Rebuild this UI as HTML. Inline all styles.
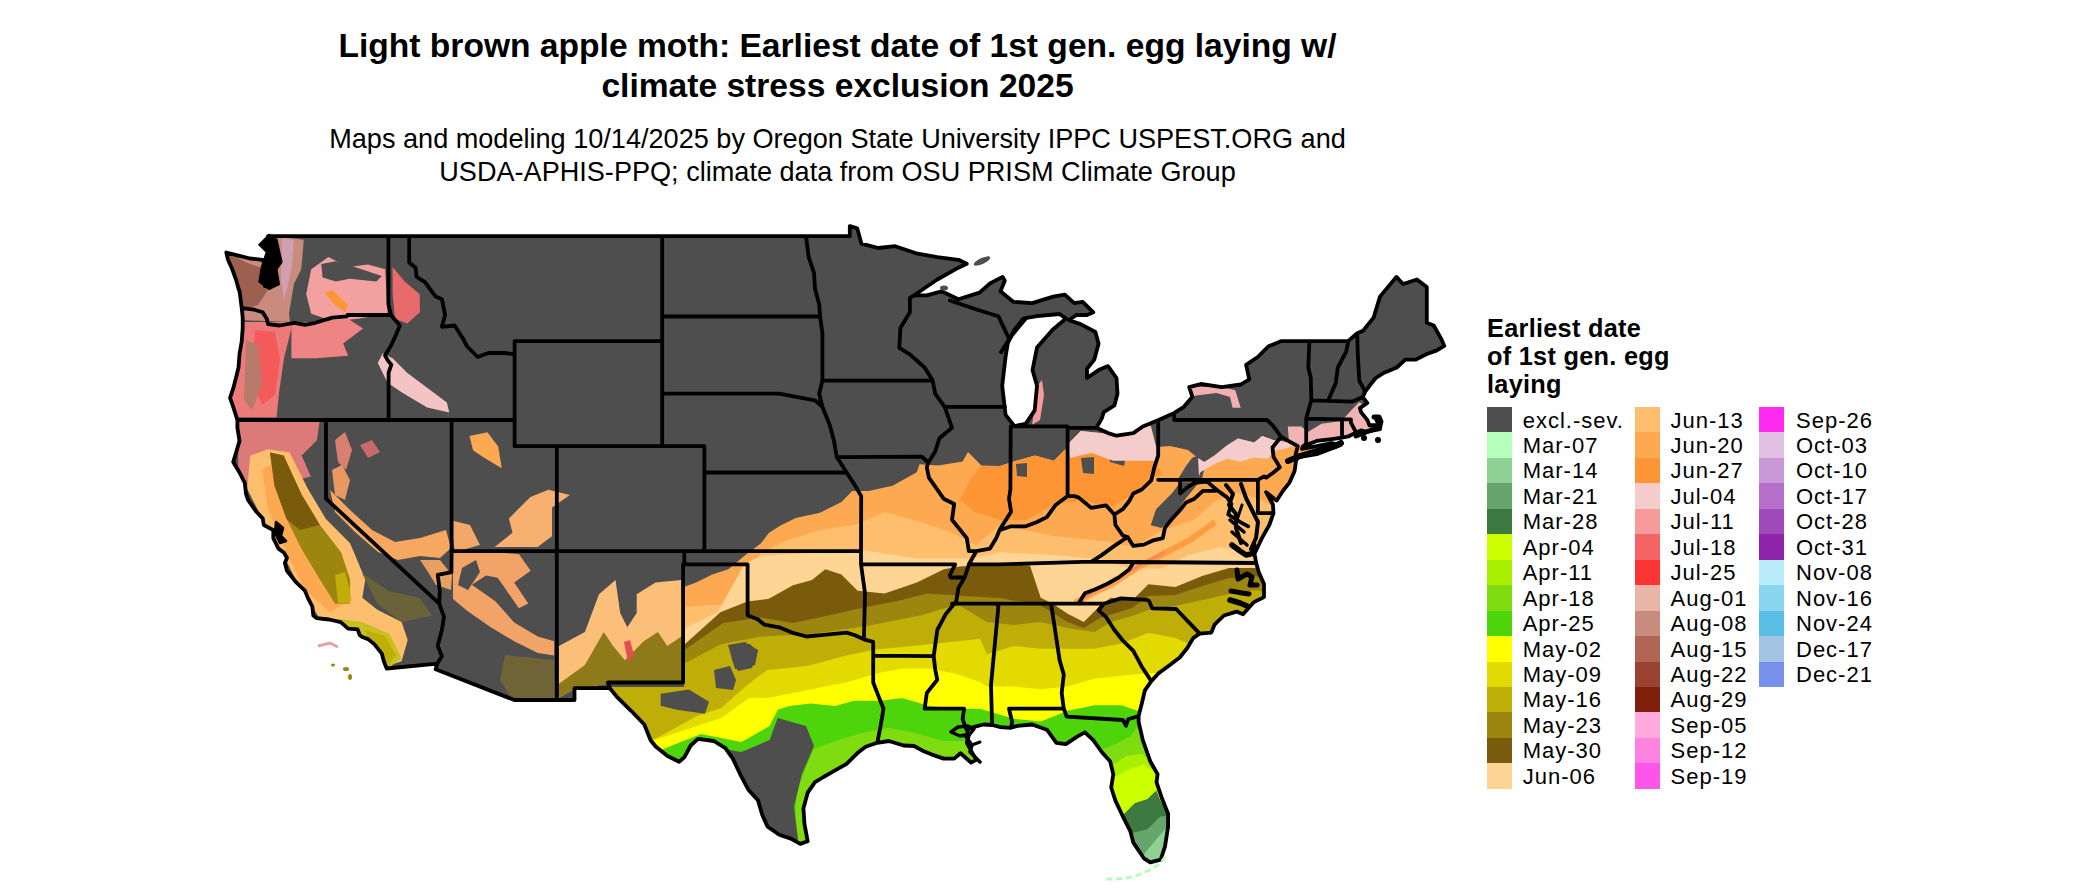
<!DOCTYPE html>
<html><head><meta charset="utf-8"><style>
html,body{margin:0;padding:0;background:#fff;}
body{width:2100px;height:892px;position:relative;overflow:hidden;font-family:"Liberation Sans",sans-serif;color:#000;}
.t{position:absolute;left:0;width:1675px;text-align:center;white-space:nowrap;}
.tt{font-weight:bold;font-size:33.6px;line-height:40px;}
.st{font-size:27.1px;line-height:33px;}
.lt{position:absolute;left:1487px;top:314.2px;font-weight:bold;font-size:25.3px;line-height:28px;letter-spacing:0.28px;white-space:nowrap;}
.sq{position:absolute;width:25px;height:25.5px;}
.lb{position:absolute;font-size:22px;line-height:25.45px;height:25.45px;white-space:nowrap;letter-spacing:1.0px;}
svg.map{position:absolute;left:0;top:0;}
</style></head><body>
<div class="t tt" style="top:25.7px">Light brown apple moth: Earliest date of 1st gen. egg laying w/</div>
<div class="t tt" style="top:65.7px">climate stress exclusion 2025</div>
<div class="t st" style="top:122px">Maps and modeling 10/14/2025 by Oregon State University IPPC USPEST.ORG and</div>
<div class="t st" style="top:155px">USDA-APHIS-PPQ; climate data from OSU PRISM Climate Group</div>
<svg class="map" width="2100" height="892" viewBox="0 0 2100 892">
<defs><clipPath id="us"><path d="M226.3,252.5 L228.0,259.8 L232.2,269.0 L236.4,280.8 L238.5,288.7 L239.5,291.3 L240.6,299.2 L241.7,308.1 L242.7,317.6 L242.7,328.1 L241.7,341.2 L239.5,354.3 L238.5,367.5 L235.3,380.6 L233.2,388.4 L230.1,397.9 L233.2,406.8 L237.4,420.0 L237.4,427.8 L239.5,440.9 L236.4,451.5 L233.2,462.0 L239.5,472.5 L244.8,482.9 L245.9,493.4 L248.0,500.0 L256.4,511.8 L262.7,518.4 L263.8,525.0 L273.3,530.2 L273.3,538.1 L278.5,548.6 L283.8,552.5 L287.0,557.8 L284.9,563.0 L287.0,570.9 L296.5,582.7 L304.9,590.6 L308.1,598.4 L312.3,606.3 L313.3,615.5 L316.5,618.1 L329.1,619.5 L340.7,622.1 L348.1,628.6 L357.6,629.4 L359.7,635.2 L362.9,637.3 L368.1,639.1 L374.5,644.4 L381.8,653.6 L383.9,661.5 L386.7,668.5 L437.3,663.6 L435.6,669.3 L514.2,700.0 L574.5,700.0 L574.5,688.2 L609.9,688.2 L616.9,696.9 L631.6,711.3 L644.3,724.5 L650.6,740.2 L655.9,746.8 L667.5,756.0 L679.1,761.7 L684.3,757.3 L690.7,745.5 L698.0,738.9 L713.8,741.0 L725.4,748.1 L732.8,758.6 L740.2,774.3 L748.6,790.1 L758.1,800.6 L762.3,815.0 L767.6,826.8 L779.2,834.7 L790.8,838.6 L800.3,843.9 L807.7,841.3 L804.5,824.2 L803.4,808.5 L807.7,792.7 L815.0,782.2 L823.5,777.0 L832.9,771.7 L846.6,763.8 L857.2,753.3 L865.6,746.8 L877.2,742.8 L888.8,741.0 L903.6,745.5 L914.1,746.0 L922.5,750.7 L932.0,754.6 L943.6,758.6 L954.2,758.6 L960.5,753.3 L971.0,762.5 L976.3,759.9 L971.0,750.7 L966.8,742.8 L968.9,735.0 L966.8,730.2 L973.1,727.1 L983.7,724.5 L992.1,725.0 L1000.5,727.1 L1010.0,727.9 L1017.4,725.8 L1032.2,724.5 L1046.9,729.7 L1056.4,742.8 L1065.9,744.1 L1077.5,736.3 L1084.9,732.3 L1093.3,740.2 L1101.7,752.0 L1110.1,761.2 L1113.3,774.3 L1111.2,787.5 L1115.4,800.6 L1122.8,816.3 L1130.2,830.8 L1133.3,842.6 L1143.9,858.3 L1150.2,862.3 L1160.7,859.6 L1165.0,846.5 L1168.1,826.8 L1168.1,813.7 L1161.8,798.0 L1156.5,782.2 L1157.6,774.3 L1150.2,761.2 L1142.8,740.2 L1138.6,721.8 L1138.6,716.1 L1141.8,703.5 L1144.9,690.3 L1151.3,681.1 L1158.6,673.3 L1169.2,665.4 L1179.7,657.5 L1187.1,648.3 L1193.4,637.8 L1199.7,633.6 L1211.3,632.6 L1214.5,624.7 L1224.0,615.5 L1236.6,611.6 L1243.0,614.2 L1253.5,602.4 L1264.0,597.1 L1264.0,584.0 L1258.8,572.2 L1256.2,563.0 L1254.5,553.8 L1261.9,538.1 L1269.3,525.0 L1273.5,513.1 L1272.9,504.5 L1266.1,492.1 L1275.6,500.0 L1276.7,500.5 L1283.0,490.8 L1289.3,482.9 L1294.6,471.1 L1296.1,460.6 L1297.8,457.5 L1316.7,454.1 L1340.8,444.9 L1331.5,443.1 L1316.7,446.2 L1302.0,448.8 L1303.0,446.2 L1316.7,440.9 L1331.5,439.1 L1340.8,437.8 L1348.4,436.5 L1354.7,433.1 L1361.0,430.4 L1366.3,431.8 L1380.0,429.1 L1381.0,422.6 L1375.8,418.6 L1378.9,425.2 L1369.4,425.2 L1367.3,420.0 L1361.0,412.1 L1359.9,408.1 L1367.3,402.9 L1362.7,397.1 L1365.2,391.6 L1370.5,384.5 L1375.8,378.0 L1384.2,372.7 L1396.8,367.5 L1405.3,359.6 L1415.8,359.6 L1426.3,354.3 L1436.9,350.4 L1444.3,345.9 L1441.1,338.6 L1433.7,325.5 L1426.8,322.8 L1426.8,286.9 L1416.9,279.5 L1403.2,284.0 L1400.0,280.8 L1396.4,276.9 L1380.0,296.6 L1373.6,317.6 L1363.1,330.7 L1357.2,333.3 L1348.4,340.9 L1280.9,341.2 L1268.2,346.5 L1257.7,357.0 L1246.1,364.8 L1249.3,379.3 L1240.8,384.5 L1221.9,387.1 L1200.8,384.0 L1189.2,387.1 L1192.4,396.8 L1183.9,406.8 L1174.2,412.9 L1158.6,420.0 L1142.8,426.5 L1133.3,433.1 L1116.5,435.7 L1108.0,433.1 L1096.4,427.8 L1101.7,418.6 L1103.8,412.1 L1114.4,405.5 L1117.5,393.7 L1116.5,378.0 L1108.0,366.1 L1098.6,370.1 L1087.0,378.0 L1087.0,368.8 L1094.3,359.6 L1098.6,343.8 L1095.4,332.0 L1080.6,324.1 L1069.0,320.2 L1076.4,315.0 L1087.0,315.0 L1093.3,312.3 L1082.7,301.8 L1074.3,303.1 L1064.8,294.7 L1053.2,296.6 L1032.2,303.1 L1013.2,301.8 L1000.5,291.3 L1004.8,280.8 L1002.6,276.9 L990.0,283.4 L979.5,292.6 L958.4,299.2 L941.5,291.3 L926.8,295.3 L914.1,295.3 L937.3,279.5 L958.4,267.7 L966.8,263.8 L958.4,259.8 L937.3,257.2 L916.2,253.3 L895.1,246.2 L878.3,248.0 L861.4,243.6 L857.2,228.3 L849.8,226.2 L849.8,236.2 L268.0,236.2 L271.2,252.0 L275.4,267.7 L273.3,280.8 L264.8,286.1 L266.9,270.3 L262.7,259.8 L250.1,258.5 L239.5,255.9 Z"/></clipPath></defs>
<path d="M226.3,252.5 L228.0,259.8 L232.2,269.0 L236.4,280.8 L238.5,288.7 L239.5,291.3 L240.6,299.2 L241.7,308.1 L242.7,317.6 L242.7,328.1 L241.7,341.2 L239.5,354.3 L238.5,367.5 L235.3,380.6 L233.2,388.4 L230.1,397.9 L233.2,406.8 L237.4,420.0 L237.4,427.8 L239.5,440.9 L236.4,451.5 L233.2,462.0 L239.5,472.5 L244.8,482.9 L245.9,493.4 L248.0,500.0 L256.4,511.8 L262.7,518.4 L263.8,525.0 L273.3,530.2 L273.3,538.1 L278.5,548.6 L283.8,552.5 L287.0,557.8 L284.9,563.0 L287.0,570.9 L296.5,582.7 L304.9,590.6 L308.1,598.4 L312.3,606.3 L313.3,615.5 L316.5,618.1 L329.1,619.5 L340.7,622.1 L348.1,628.6 L357.6,629.4 L359.7,635.2 L362.9,637.3 L368.1,639.1 L374.5,644.4 L381.8,653.6 L383.9,661.5 L386.7,668.5 L437.3,663.6 L435.6,669.3 L514.2,700.0 L574.5,700.0 L574.5,688.2 L609.9,688.2 L616.9,696.9 L631.6,711.3 L644.3,724.5 L650.6,740.2 L655.9,746.8 L667.5,756.0 L679.1,761.7 L684.3,757.3 L690.7,745.5 L698.0,738.9 L713.8,741.0 L725.4,748.1 L732.8,758.6 L740.2,774.3 L748.6,790.1 L758.1,800.6 L762.3,815.0 L767.6,826.8 L779.2,834.7 L790.8,838.6 L800.3,843.9 L807.7,841.3 L804.5,824.2 L803.4,808.5 L807.7,792.7 L815.0,782.2 L823.5,777.0 L832.9,771.7 L846.6,763.8 L857.2,753.3 L865.6,746.8 L877.2,742.8 L888.8,741.0 L903.6,745.5 L914.1,746.0 L922.5,750.7 L932.0,754.6 L943.6,758.6 L954.2,758.6 L960.5,753.3 L971.0,762.5 L976.3,759.9 L971.0,750.7 L966.8,742.8 L968.9,735.0 L966.8,730.2 L973.1,727.1 L983.7,724.5 L992.1,725.0 L1000.5,727.1 L1010.0,727.9 L1017.4,725.8 L1032.2,724.5 L1046.9,729.7 L1056.4,742.8 L1065.9,744.1 L1077.5,736.3 L1084.9,732.3 L1093.3,740.2 L1101.7,752.0 L1110.1,761.2 L1113.3,774.3 L1111.2,787.5 L1115.4,800.6 L1122.8,816.3 L1130.2,830.8 L1133.3,842.6 L1143.9,858.3 L1150.2,862.3 L1160.7,859.6 L1165.0,846.5 L1168.1,826.8 L1168.1,813.7 L1161.8,798.0 L1156.5,782.2 L1157.6,774.3 L1150.2,761.2 L1142.8,740.2 L1138.6,721.8 L1138.6,716.1 L1141.8,703.5 L1144.9,690.3 L1151.3,681.1 L1158.6,673.3 L1169.2,665.4 L1179.7,657.5 L1187.1,648.3 L1193.4,637.8 L1199.7,633.6 L1211.3,632.6 L1214.5,624.7 L1224.0,615.5 L1236.6,611.6 L1243.0,614.2 L1253.5,602.4 L1264.0,597.1 L1264.0,584.0 L1258.8,572.2 L1256.2,563.0 L1254.5,553.8 L1261.9,538.1 L1269.3,525.0 L1273.5,513.1 L1272.9,504.5 L1266.1,492.1 L1275.6,500.0 L1276.7,500.5 L1283.0,490.8 L1289.3,482.9 L1294.6,471.1 L1296.1,460.6 L1297.8,457.5 L1316.7,454.1 L1340.8,444.9 L1331.5,443.1 L1316.7,446.2 L1302.0,448.8 L1303.0,446.2 L1316.7,440.9 L1331.5,439.1 L1340.8,437.8 L1348.4,436.5 L1354.7,433.1 L1361.0,430.4 L1366.3,431.8 L1380.0,429.1 L1381.0,422.6 L1375.8,418.6 L1378.9,425.2 L1369.4,425.2 L1367.3,420.0 L1361.0,412.1 L1359.9,408.1 L1367.3,402.9 L1362.7,397.1 L1365.2,391.6 L1370.5,384.5 L1375.8,378.0 L1384.2,372.7 L1396.8,367.5 L1405.3,359.6 L1415.8,359.6 L1426.3,354.3 L1436.9,350.4 L1444.3,345.9 L1441.1,338.6 L1433.7,325.5 L1426.8,322.8 L1426.8,286.9 L1416.9,279.5 L1403.2,284.0 L1400.0,280.8 L1396.4,276.9 L1380.0,296.6 L1373.6,317.6 L1363.1,330.7 L1357.2,333.3 L1348.4,340.9 L1280.9,341.2 L1268.2,346.5 L1257.7,357.0 L1246.1,364.8 L1249.3,379.3 L1240.8,384.5 L1221.9,387.1 L1200.8,384.0 L1189.2,387.1 L1192.4,396.8 L1183.9,406.8 L1174.2,412.9 L1158.6,420.0 L1142.8,426.5 L1133.3,433.1 L1116.5,435.7 L1108.0,433.1 L1096.4,427.8 L1101.7,418.6 L1103.8,412.1 L1114.4,405.5 L1117.5,393.7 L1116.5,378.0 L1108.0,366.1 L1098.6,370.1 L1087.0,378.0 L1087.0,368.8 L1094.3,359.6 L1098.6,343.8 L1095.4,332.0 L1080.6,324.1 L1069.0,320.2 L1076.4,315.0 L1087.0,315.0 L1093.3,312.3 L1082.7,301.8 L1074.3,303.1 L1064.8,294.7 L1053.2,296.6 L1032.2,303.1 L1013.2,301.8 L1000.5,291.3 L1004.8,280.8 L1002.6,276.9 L990.0,283.4 L979.5,292.6 L958.4,299.2 L941.5,291.3 L926.8,295.3 L914.1,295.3 L937.3,279.5 L958.4,267.7 L966.8,263.8 L958.4,259.8 L937.3,257.2 L916.2,253.3 L895.1,246.2 L878.3,248.0 L861.4,243.6 L857.2,228.3 L849.8,226.2 L849.8,236.2 L268.0,236.2 L271.2,252.0 L275.4,267.7 L273.3,280.8 L264.8,286.1 L266.9,270.3 L262.7,259.8 L250.1,258.5 L239.5,255.9 Z" fill="#4e4e4e"/>
<g clip-path="url(#us)"><path d="M684.5,586.7 L696.1,582.6 L712.3,574.6 L728.4,569.2 L744.6,555.7 L760.7,543.6 L768.8,532.9 L779.6,526.1 L795.7,518.0 L820.0,512.7 L841.5,501.9 L852.2,491.1 L868.4,491.1 L892.6,485.8 L916.8,472.3 L919.5,464.2 L938.4,465.6 L962.6,461.5 L968.0,452.0 L981.4,465.6 L1000.0,466.1 L1016.1,460.7 L1035.0,455.4 L1053.8,460.7 L1067.3,447.3 L1070.0,441.9 L1080.7,431.1 L1107.7,433.8 L1134.6,428.4 L1150.7,425.8 L1156.1,447.0 L1170.0,446.0 L1188.0,450.0 L1198.0,458.0 L1204.4,462.0 L1213.8,456.1 L1227.3,445.3 L1238.0,438.6 L1254.2,442.6 L1262.2,435.9 L1273.0,440.0 L1289.2,442.6 L1294.5,437.3 L1302.6,429.2 L1320.0,440.0 L1400.0,470.0 L1400.0,900.0 L600.0,900.0 L600.0,687.0 L684.5,687.0 L684.5,586.7 Z" fill="#fca952"/>
<path d="M981.0,466.0 L1000.0,466.1 L1016.1,460.7 L1035.0,455.4 L1053.8,460.7 L1067.3,447.3 L1070.0,458.0 L1091.5,452.7 L1113.0,460.7 L1134.6,460.7 L1156.1,460.7 L1161.5,475.0 L1153.4,476.9 L1134.6,493.0 L1113.0,506.5 L1080.7,501.1 L1053.8,503.8 L1026.9,520.0 L1000.0,520.0 L975.0,512.0 L960.0,500.0 L970.0,480.0 Z" fill="#fd9534"/>
<path d="M684.5,606.9 L723.0,604.2 L744.6,582.6 L760.7,553.0 L787.7,540.0 L820.0,530.0 L857.6,524.0 L884.5,512.0 L916.8,520.7 L949.1,531.5 L976.0,545.0 L1000.0,525.3 L1053.8,536.1 L1107.7,541.5 L1134.6,546.9 L1161.5,530.7 L1193.8,520.0 L1215.3,501.1 L1236.8,493.0 L1258.4,498.4 L1300.0,520.0 L1400.0,540.0 L1400.0,900.0 L600.0,900.0 L600.0,687.0 L684.5,687.0 L684.5,606.9 Z" fill="#fdbf6e"/>
<path d="M684.5,628.4 L717.7,612.2 L744.6,563.8 L760.7,555.7 L814.6,553.0 L863.0,550.3 L916.8,558.4 L970.7,558.4 L1000.0,552.2 L1053.8,555.0 L1107.7,560.3 L1129.2,568.4 L1161.5,568.4 L1188.4,555.0 L1220.7,546.9 L1242.2,552.2 L1300.0,560.0 L1400.0,600.0 L1400.0,900.0 L600.0,900.0 L600.0,687.0 L684.5,687.0 L684.5,628.4 Z" fill="#ffd595"/>
<path d="M684.5,644.5 L720.4,612.2 L747.3,601.5 L768.8,598.8 L793.0,585.3 L811.9,580.0 L825.3,569.2 L841.5,574.6 L857.6,590.7 L884.5,593.4 L916.8,582.6 L943.8,569.2 L959.9,566.5 L1000.0,563.8 L1030.0,565.4 L1040.7,597.7 L1051.5,603.0 L1067.7,613.8 L1083.8,621.9 L1100.0,605.8 L1110.7,597.7 L1132.2,600.4 L1148.4,584.2 L1175.3,586.9 L1202.2,576.1 L1229.1,568.1 L1256.0,568.1 L1300.0,580.0 L1400.0,900.0 L600.0,900.0 L600.0,687.0 L684.5,687.0 L684.5,644.5 Z" fill="#7a5b0c"/>
<path d="M684.5,650.0 L723.0,623.0 L760.7,617.6 L793.0,623.0 L830.7,615.0 L865.7,606.9 L895.3,601.5 L927.6,593.4 L965.3,596.1 L1000.0,598.0 L1040.0,605.0 L1067.7,622.0 L1083.8,628.0 L1100.0,618.0 L1132.2,608.0 L1148.4,596.0 L1175.3,595.0 L1202.2,586.0 L1229.1,578.0 L1256.0,576.0 L1300.0,590.0 L1400.0,900.0 L600.0,900.0 L600.0,687.0 L684.5,687.0 L684.5,650.0 Z" fill="#9c8610"/>
<path d="M684.5,663.4 L720.4,644.5 L760.7,636.5 L814.6,633.8 L868.4,625.7 L922.2,615.0 L949.1,606.9 L960.0,605.8 L986.9,622.0 L1013.8,625.0 L1040.7,622.0 L1067.7,628.0 L1094.6,632.0 L1110.7,622.0 L1132.2,616.0 L1148.4,610.0 L1175.3,606.0 L1202.2,600.0 L1229.1,594.0 L1256.0,590.0 L1300.0,600.0 L1400.0,900.0 L600.0,900.0 L600.0,687.0 L684.5,687.0 L684.5,663.4 Z" fill="#c0ae08"/>
<path d="M640.0,745.0 L660.7,736.0 L697.0,716.0 L721.2,708.0 L741.4,690.0 L760.0,675.0 L767.7,670.0 L808.0,665.8 L848.4,655.0 L875.3,649.6 L902.2,646.9 L956.0,641.5 L980.0,638.8 L986.9,654.2 L1013.8,646.1 L1040.7,648.8 L1094.6,648.8 L1121.5,643.4 L1148.4,632.7 L1175.3,638.0 L1188.8,643.4 L1220.0,630.0 L1300.0,640.0 L1400.0,900.0 L600.0,900.0 L600.0,745.0 Z" fill="#e2da00"/>
<path d="M640.0,745.0 L660.7,738.0 L697.0,726.0 L721.2,717.9 L749.5,697.7 L767.7,698.0 L794.6,692.7 L821.5,687.3 L848.4,681.9 L875.3,673.8 L902.2,668.4 L929.1,668.4 L956.0,673.8 L980.0,681.9 L986.9,686.5 L1013.8,686.5 L1040.7,689.2 L1067.7,686.5 L1094.6,678.4 L1121.5,675.7 L1148.4,673.0 L1161.8,673.0 L1200.0,660.0 L1400.0,900.0 L600.0,900.0 L600.0,745.0 Z" fill="#ffff00"/>
<path d="M640.0,760.0 L660.7,750.0 L701.0,734.0 L741.4,742.0 L769.6,726.0 L777.7,709.8 L789.2,706.1 L810.7,703.4 L835.0,706.1 L853.8,700.7 L880.7,700.7 L902.2,698.0 L929.1,706.1 L956.0,708.8 L980.0,708.8 L986.9,710.7 L1013.8,718.8 L1040.7,721.5 L1067.7,710.7 L1094.6,705.3 L1121.5,705.3 L1137.6,710.7 L1170.0,712.0 L1400.0,900.0 L600.0,900.0 L600.0,760.0 Z" fill="#4ed40a"/>
<path d="M790.0,900.0 L797.0,790.0 L813.4,749.2 L835.0,741.1 L861.8,733.0 L888.8,727.7 L915.7,733.0 L942.6,741.1 L980.0,741.1 L1000.0,750.0 L1000.0,900.0 L790.0,900.0 Z" fill="#7edc10"/>
<path d="M1090.0,760.0 L1102.4,749.5 L1117.5,743.0 L1130.4,736.6 L1136.9,728.0 L1150.0,730.0 L1170.0,740.0 L1170.0,900.0 L1090.0,900.0 Z" fill="#7edc10"/>
<path d="M1100.0,780.0 L1113.2,764.6 L1126.1,756.0 L1141.2,753.8 L1147.6,758.1 L1170.0,760.0 L1170.0,900.0 L1100.0,900.0 Z" fill="#aaee00"/>
<path d="M1100.0,790.0 L1113.2,777.5 L1130.4,768.9 L1143.3,764.6 L1149.8,768.9 L1170.0,770.0 L1170.0,900.0 L1100.0,900.0 Z" fill="#ccff00"/>
<path d="M1110.0,820.0 L1124.0,814.1 L1134.7,803.3 L1147.6,799.0 L1156.3,790.4 L1160.6,801.2 L1167.0,814.1 L1180.0,820.0 L1180.0,900.0 L1110.0,900.0 Z" fill="#3d7a42"/>
<path d="M1120.0,840.0 L1130.4,833.5 L1147.6,829.2 L1160.6,816.3 L1167.0,816.3 L1180.0,820.0 L1180.0,900.0 L1120.0,900.0 Z" fill="#66a56b"/>
<path d="M1130.0,860.0 L1143.3,855.0 L1154.1,842.1 L1164.9,829.2 L1169.2,829.2 L1180.0,830.0 L1180.0,900.0 L1130.0,900.0 Z" fill="#8fd095"/>
<path d="M690.0,760.0 L701.0,745.0 L741.4,752.0 L769.6,740.0 L777.7,717.9 L806.0,726.0 L814.0,746.0 L802.0,774.0 L794.0,806.6 L798.0,839.0 L790.0,900.0 L690.0,900.0 Z" fill="#4e4e4e"/>
<path d="M660.7,693.7 L689.0,689.6 L709.0,701.7 L705.0,713.8 L676.8,709.8 L660.7,705.8 Z" fill="#4e4e4e"/>
<path d="M714.0,670.0 L730.0,666.0 L736.0,680.0 L733.0,690.0 L716.0,688.0 Z" fill="#4e4e4e"/>
<path d="M731.0,648.0 L750.0,644.0 L757.0,652.0 L752.0,668.0 L738.0,671.0 L732.0,660.0 Z" fill="#4e4e4e"/>
<path d="M728.0,645.0 L745.0,642.0 L758.0,650.0 L755.0,665.0 L735.0,669.0 Z" fill="#4e4e4e"/>
<path d="M1150.7,525.3 L1156.1,509.2 L1172.2,493.0 L1180.3,482.3 L1199.2,482.3 L1185.7,498.4 L1175.0,514.6 L1161.5,528.0 Z" fill="#4e4e4e"/>
<path d="M1178.0,479.0 L1186.0,466.0 L1192.0,458.0 L1201.0,454.0 L1205.0,466.0 L1202.0,479.0 Z" fill="#4e4e4e"/>
<path d="M1107.7,446.0 L1120.0,444.6 L1126.5,452.0 L1124.0,466.1 L1110.0,462.0 Z" fill="#4e4e4e"/>
<path d="M1081.0,458.0 L1094.0,457.0 L1094.0,474.0 L1083.0,473.0 Z" fill="#4e4e4e"/>
<path d="M1016.0,464.0 L1027.0,463.0 L1027.0,477.0 L1017.0,476.0 Z" fill="#4e4e4e"/>
<path d="M1075,603 L1095,592 L1112,584 L1140,566 L1165,553 L1190,540 L1215,522" fill="none" stroke="#fd9534" stroke-width="6" opacity="0.8"/>
<path d="M1085,597 L1112,582 L1140,565 L1165,552" fill="none" stroke="#f07a70" stroke-width="2.5" opacity="0.7"/>
<path d="M1067.3,447.3 L1070.0,441.9 L1080.7,431.1 L1107.7,433.8 L1134.6,428.4 L1150.7,425.8 L1156.1,447.0 L1156.1,460.7 L1134.6,460.7 L1113.0,460.7 L1091.5,452.7 L1070.0,458.0 Z" fill="#f4cccc"/>
<path d="M1199.0,476.3 L1198.0,458.0 L1204.4,462.0 L1213.8,456.1 L1227.3,445.3 L1238.0,438.6 L1254.2,442.6 L1262.2,435.9 L1273.0,440.0 L1289.2,442.6 L1294.5,445.3 L1287.8,448.0 L1274.4,450.7 L1267.6,458.8 L1254.2,457.4 L1240.7,461.5 L1227.3,458.8 L1213.8,464.2 L1200.4,472.2 Z" fill="#f4cccc"/>
<path d="M1287.8,426.5 L1301.3,426.5 L1308.0,431.9 L1321.4,423.8 L1341.6,421.1 L1351.0,410.4 L1359.1,402.3 L1364.5,405.0 L1369.9,429.2 L1348.3,434.6 L1321.4,440.0 L1302.6,445.3 L1289.2,445.3 Z" fill="#f0b4b4"/>
<path d="M1189.6,387.5 L1217.8,386.1 L1235.3,390.2 L1240.7,407.7 L1232.6,407.7 L1230.0,397.0 L1216.5,392.9 L1196.3,395.6 L1191.0,397.0 Z" fill="#f0b0b0"/>
<path d="M1038.0,385.0 L1042.0,380.0 L1044.0,395.0 L1040.0,420.0 L1032.0,425.0 Z" fill="#f59b9b"/><path d="M200.0,240.0 L284.0,237.3 L303.8,239.7 L301.3,269.3 L293.9,284.1 L289.0,313.8 L290.0,322.0 L240.0,320.0 L200.0,300.0 Z" fill="#c98b7e"/>
<path d="M228.0,252.0 L245.0,262.0 L262.0,268.0 L268.0,290.0 L258.0,305.0 L242.0,310.0 L238.0,290.0 L232.0,270.0 Z" fill="#9c6050"/>
<path d="M282.0,238.0 L294.0,240.0 L292.0,265.0 L288.0,285.0 L284.0,300.0 L281.0,280.0 Z" fill="#d0a0b0"/>
<path d="M200.0,322.0 L291.4,322.0 L291.4,328.6 L284.0,358.2 L279.0,392.7 L276.6,417.4 L200.0,417.0 Z" fill="#ec7a78"/>
<path d="M255.0,330.0 L275.0,332.0 L280.0,360.0 L275.0,395.0 L262.0,405.0 L252.0,380.0 Z" fill="#f45a5a"/>
<path d="M246.0,340.0 L258.0,345.0 L262.0,385.0 L252.0,410.0 L244.0,400.0 Z" fill="#b87a6a"/>
<path d="M311.2,269.3 L328.4,257.0 L348.2,266.9 L367.9,264.4 L385.2,269.3 L387.6,313.8 L358.0,318.7 L333.4,321.2 L311.2,313.8 L306.2,294.0 Z" fill="#f2a0a0"/>
<path d="M321.3,264.0 L336.0,261.3 L349.5,265.3 L381.8,276.1 L376.4,281.5 L349.5,278.8 L336.0,281.5 L322.6,277.5 Z" fill="#4e4e4e"/>
<path d="M325.0,293.0 L332.0,290.0 L348.0,305.0 L345.0,312.0 L335.0,305.0 Z" fill="#fd9534"/>
<path d="M291.4,323.6 L348.2,318.7 L363.0,328.6 L343.2,343.4 L348.2,355.7 L316.1,358.2 L291.4,358.2 Z" fill="#ee8484"/>
<path d="M392.6,266.9 L404.9,281.7 L419.7,294.0 L420.0,312.0 L407.4,323.6 L395.0,318.7 L392.6,294.0 Z" fill="#e86a6a"/>
<path d="M382.7,353.2 L392.6,358.2 L407.4,373.0 L427.1,387.8 L446.9,402.6 L449.3,412.5 L427.1,407.5 L402.4,392.7 L387.6,382.8 L377.8,363.1 Z" fill="#f4c4c4"/>
<path d="M238.2,419.1 L319.9,419.1 L316.9,440.3 L301.7,455.4 L310.8,476.6 L298.7,479.6 L280.5,452.4 L265.4,464.5 L253.3,500.8 L238.2,470.5 Z" fill="#dc7a7a"/>
<path d="M250.3,455.4 L268.4,449.3 L289.6,452.4 L307.8,488.7 L325.9,519.0 L350.1,543.2 L365.3,579.5 L362.3,597.7 L377.4,609.8 L401.6,621.9 L407.7,640.0 L401.6,661.2 L383.4,667.3 L347.1,627.9 L319.9,618.8 L298.7,585.5 L280.5,549.2 L262.4,519.0 L247.2,488.7 Z" fill="#fdbf6e"/>
<path d="M262.0,470.0 L276.0,462.0 L296.0,500.0 L320.0,540.0 L345.0,570.0 L352.0,600.0 L330.0,612.0 L305.0,590.0 L285.0,550.0 L268.0,510.0 Z" fill="#fca952"/>
<path d="M270.0,452.4 L283.6,455.4 L301.7,494.7 L319.9,525.0 L341.1,552.3 L350.1,579.5 L350.1,603.7 L335.0,603.7 L319.9,579.5 L301.7,549.2 L286.6,519.0 L274.5,485.7 Z" fill="#9c8610"/>
<path d="M270.0,452.4 L283.6,455.4 L301.7,494.7 L319.9,525.0 L300.0,530.0 L286.6,519.0 L274.5,485.7 Z" fill="#7a5b0c"/>
<path d="M335.0,575.0 L345.0,572.0 L350.1,590.0 L350.1,603.7 L338.0,603.0 Z" fill="#c0ae08"/>
<path d="M338.0,618.8 L362.3,621.9 L389.5,634.0 L401.6,658.2 L389.5,667.3 L371.3,652.1 L353.2,634.0 Z" fill="#c8c020"/>
<path d="M365.0,630.0 L385.0,636.0 L396.0,655.0 L389.0,664.0 L372.0,650.0 Z" fill="#c0ae08"/>
<path d="M362.3,573.4 L389.5,591.6 L419.8,597.7 L431.9,615.8 L401.6,621.9 L377.4,603.7 Z" fill="#6a6238"/>
<path d="M335.0,440.0 L345.0,432.0 L352.0,450.0 L346.0,470.0 L338.0,462.0 Z" fill="#d88070"/>
<path d="M360.0,445.0 L372.0,440.0 L380.0,452.0 L368.0,458.0 Z" fill="#c86a6a"/>
<path d="M330.0,490.0 L350.0,510.0 L372.0,530.0 L395.0,542.0 L420.0,538.0 L446.0,530.0 L451.0,548.0 L440.0,558.0 L420.0,556.0 L398.0,560.0 L378.0,552.0 L355.0,532.0 L335.0,512.0 Z" fill="#f6a860"/>
<path d="M420.0,560.0 L440.0,560.0 L452.0,575.0 L451.0,590.0 L436.0,585.0 L428.0,572.0 Z" fill="#e8a060"/>
<path d="M332.0,470.0 L342.0,465.0 L350.0,480.0 L345.0,500.0 L335.0,495.0 Z" fill="#e89860"/>
<path d="M469.5,435.9 L487.4,432.3 L498.2,446.6 L501.7,468.2 L483.8,457.4 L473.0,450.2 Z" fill="#fca952"/>
<path d="M508.9,518.4 L530.4,496.9 L548.4,489.7 L569.9,495.0 L552.0,507.6 L552.0,536.3 L537.6,547.1 L494.6,547.1 L512.5,532.7 Z" fill="#f8b070"/>
<path d="M450.0,520.0 L470.0,525.0 L480.0,545.0 L455.0,552.0 Z" fill="#f2a868"/>
<path d="M453.0,551.8 L490.7,551.8 L519.0,554.2 L530.7,570.7 L514.2,582.4 L528.3,603.6 L518.9,608.3 L497.7,577.7 L486.0,575.4 L471.8,584.8 L495.4,601.3 L514.2,622.5 L537.8,636.6 L554.2,641.3 L554.2,655.4 L537.8,653.1 L514.2,641.3 L490.7,627.2 L467.1,610.7 L453.0,598.9 Z" fill="#f2a468"/>
<path d="M462.0,568.0 L476.0,560.0 L480.0,572.0 L468.0,590.0 L458.0,585.0 Z" fill="#4e4e4e"/>
<path d="M505.0,655.0 L554.0,660.0 L555.0,698.0 L512.0,699.0 L500.0,680.0 Z" fill="#6e6436"/>
<path d="M559.0,646.0 L584.9,631.9 L599.0,594.2 L615.5,580.0 L620.2,613.0 L627.3,627.2 L636.7,613.0 L636.7,594.2 L655.5,582.4 L681.4,580.0 L684.0,684.0 L608.4,683.7 L575.4,688.4 L559.0,697.8 Z" fill="#fcbf7a"/>
<path d="M559.0,683.7 L584.9,664.9 L603.7,631.9 L613.1,646.0 L624.9,660.2 L643.7,641.3 L657.9,631.9 L667.3,646.0 L681.4,636.6 L684.0,684.0 L608.4,683.7 L575.4,688.4 L559.0,697.8 Z" fill="#8e7a18"/>
<path d="M624.0,642.0 L630.0,640.0 L634.0,655.0 L628.0,662.0 Z" fill="#e05050"/></g>
<path d="M1023.5,318.5 L1014.5,329.7 L1007.8,343.1 L1005.6,356.6 L1002.2,385.7 L1005.6,414.9 L1014.5,426.1 L1025.7,423.9 L1034.7,410.4 L1037,385.7 L1032.5,370 L1037,347.6 L1052.6,329.7 L1066,318.5 L1059.4,314 L1037,316.2 Z" fill="#fff" stroke="#000" stroke-width="3.8" stroke-linejoin="round"/>
<path d="M1025.7,318.5 L1012,335 L1001.1,352.1" fill="none" stroke="#000" stroke-width="4" stroke-linecap="round"/>
<path d="M226.3,252.5 L228.0,259.8 L232.2,269.0 L236.4,280.8 L238.5,288.7 L239.5,291.3 L240.6,299.2 L241.7,308.1 L242.7,317.6 L242.7,328.1 L241.7,341.2 L239.5,354.3 L238.5,367.5 L235.3,380.6 L233.2,388.4 L230.1,397.9 L233.2,406.8 L237.4,420.0 L237.4,427.8 L239.5,440.9 L236.4,451.5 L233.2,462.0 L239.5,472.5 L244.8,482.9 L245.9,493.4 L248.0,500.0 L256.4,511.8 L262.7,518.4 L263.8,525.0 L273.3,530.2 L273.3,538.1 L278.5,548.6 L283.8,552.5 L287.0,557.8 L284.9,563.0 L287.0,570.9 L296.5,582.7 L304.9,590.6 L308.1,598.4 L312.3,606.3 L313.3,615.5 L316.5,618.1 L329.1,619.5 L340.7,622.1 L348.1,628.6 L357.6,629.4 L359.7,635.2 L362.9,637.3 L368.1,639.1 L374.5,644.4 L381.8,653.6 L383.9,661.5 L386.7,668.5 L437.3,663.6 L435.6,669.3 L514.2,700.0 L574.5,700.0 L574.5,688.2 L609.9,688.2 L616.9,696.9 L631.6,711.3 L644.3,724.5 L650.6,740.2 L655.9,746.8 L667.5,756.0 L679.1,761.7 L684.3,757.3 L690.7,745.5 L698.0,738.9 L713.8,741.0 L725.4,748.1 L732.8,758.6 L740.2,774.3 L748.6,790.1 L758.1,800.6 L762.3,815.0 L767.6,826.8 L779.2,834.7 L790.8,838.6 L800.3,843.9 L807.7,841.3 L804.5,824.2 L803.4,808.5 L807.7,792.7 L815.0,782.2 L823.5,777.0 L832.9,771.7 L846.6,763.8 L857.2,753.3 L865.6,746.8 L877.2,742.8 L888.8,741.0 L903.6,745.5 L914.1,746.0 L922.5,750.7 L932.0,754.6 L943.6,758.6 L954.2,758.6 L960.5,753.3 L971.0,762.5 L976.3,759.9 L971.0,750.7 L966.8,742.8 L968.9,735.0 L966.8,730.2 L973.1,727.1 L983.7,724.5 L992.1,725.0 L1000.5,727.1 L1010.0,727.9 L1017.4,725.8 L1032.2,724.5 L1046.9,729.7 L1056.4,742.8 L1065.9,744.1 L1077.5,736.3 L1084.9,732.3 L1093.3,740.2 L1101.7,752.0 L1110.1,761.2 L1113.3,774.3 L1111.2,787.5 L1115.4,800.6 L1122.8,816.3 L1130.2,830.8 L1133.3,842.6 L1143.9,858.3 L1150.2,862.3 L1160.7,859.6 L1165.0,846.5 L1168.1,826.8 L1168.1,813.7 L1161.8,798.0 L1156.5,782.2 L1157.6,774.3 L1150.2,761.2 L1142.8,740.2 L1138.6,721.8 L1138.6,716.1 L1141.8,703.5 L1144.9,690.3 L1151.3,681.1 L1158.6,673.3 L1169.2,665.4 L1179.7,657.5 L1187.1,648.3 L1193.4,637.8 L1199.7,633.6 L1211.3,632.6 L1214.5,624.7 L1224.0,615.5 L1236.6,611.6 L1243.0,614.2 L1253.5,602.4 L1264.0,597.1 L1264.0,584.0 L1258.8,572.2 L1256.2,563.0 L1254.5,553.8 L1261.9,538.1 L1269.3,525.0 L1273.5,513.1 L1272.9,504.5 L1266.1,492.1 L1275.6,500.0 L1276.7,500.5 L1283.0,490.8 L1289.3,482.9 L1294.6,471.1 L1296.1,460.6 L1297.8,457.5 L1316.7,454.1 L1340.8,444.9 L1331.5,443.1 L1316.7,446.2 L1302.0,448.8 L1303.0,446.2 L1316.7,440.9 L1331.5,439.1 L1340.8,437.8 L1348.4,436.5 L1354.7,433.1 L1361.0,430.4 L1366.3,431.8 L1380.0,429.1 L1381.0,422.6 L1375.8,418.6 L1378.9,425.2 L1369.4,425.2 L1367.3,420.0 L1361.0,412.1 L1359.9,408.1 L1367.3,402.9 L1362.7,397.1 L1365.2,391.6 L1370.5,384.5 L1375.8,378.0 L1384.2,372.7 L1396.8,367.5 L1405.3,359.6 L1415.8,359.6 L1426.3,354.3 L1436.9,350.4 L1444.3,345.9 L1441.1,338.6 L1433.7,325.5 L1426.8,322.8 L1426.8,286.9 L1416.9,279.5 L1403.2,284.0 L1400.0,280.8 L1396.4,276.9 L1380.0,296.6 L1373.6,317.6 L1363.1,330.7 L1357.2,333.3 L1348.4,340.9 L1280.9,341.2 L1268.2,346.5 L1257.7,357.0 L1246.1,364.8 L1249.3,379.3 L1240.8,384.5 L1221.9,387.1 L1200.8,384.0 L1189.2,387.1 L1192.4,396.8 L1183.9,406.8 L1174.2,412.9 L1158.6,420.0 L1142.8,426.5 L1133.3,433.1 L1116.5,435.7 L1108.0,433.1 L1096.4,427.8 L1101.7,418.6 L1103.8,412.1 L1114.4,405.5 L1117.5,393.7 L1116.5,378.0 L1108.0,366.1 L1098.6,370.1 L1087.0,378.0 L1087.0,368.8 L1094.3,359.6 L1098.6,343.8 L1095.4,332.0 L1080.6,324.1 L1069.0,320.2 L1076.4,315.0 L1087.0,315.0 L1093.3,312.3 L1082.7,301.8 L1074.3,303.1 L1064.8,294.7 L1053.2,296.6 L1032.2,303.1 L1013.2,301.8 L1000.5,291.3 L1004.8,280.8 L1002.6,276.9 L990.0,283.4 L979.5,292.6 L958.4,299.2 L941.5,291.3 L926.8,295.3 L914.1,295.3 L937.3,279.5 L958.4,267.7 L966.8,263.8 L958.4,259.8 L937.3,257.2 L916.2,253.3 L895.1,246.2 L878.3,248.0 L861.4,243.6 L857.2,228.3 L849.8,226.2 L849.8,236.2 L268.0,236.2 L271.2,252.0 L275.4,267.7 L273.3,280.8 L264.8,286.1 L266.9,270.3 L262.7,259.8 L250.1,258.5 L239.5,255.9 Z M241.7,308.1 L254.3,309.7 L262.7,312.3 L266.9,318.9 L268.0,324.1 L279.6,325.5 L294.4,322.8 L304.9,324.9 L315.4,322.8 L332.3,317.6 L347.1,316.3 L347.5,315.0 L390.9,315.0 M388.4,236.2 L388.4,303.9 L390.9,315.0 L399.8,325.5 L395.5,335.9 L391.3,345.1 L385.0,355.6 L388.2,360.9 L391.3,364.8 L388.6,372.7 L388.6,420.0 M237.2,420.0 L514.6,420.0 M326.0,420.0 L326.0,498.7 L439.2,603.7 M451.6,420.0 L451.6,551.2 L451.4,572.2 L437.7,574.8 L439.8,590.6 L439.2,603.7 L444.0,616.8 L441.9,630.0 L437.7,645.7 L441.9,656.2 L437.3,663.6 M451.4,551.2 L704.4,551.2 M556.8,446.2 L556.8,700.0 M514.6,446.2 L704.4,446.2 M514.6,446.2 L514.6,354.3 L505.2,353.0 L488.3,353.0 L477.7,357.0 L467.2,346.5 L463.0,338.6 L454.6,325.5 L441.9,326.8 L445.1,315.0 L441.9,299.2 L435.6,296.6 L425.0,282.1 L416.6,276.9 L415.6,267.7 L409.2,262.5 L409.2,236.2 M514.6,354.3 L514.6,341.2 L662.2,341.2 M662.2,236.2 L662.2,446.2 M704.4,446.2 L704.4,551.2 M684.3,551.2 L684.3,564.3 L747.6,564.3 L747.6,615.2 L758.1,619.5 L764.4,624.7 L779.2,627.3 L791.8,632.6 L806.6,636.5 L821.4,635.2 L834.0,633.9 L846.6,632.6 L855.1,635.2 L863.9,639.4 L873.2,641.8 L873.2,682.5 L878.3,695.6 L883.5,708.7 L880.4,727.1 L877.2,742.8 M683.1,564.3 L683.1,682.5 L608.0,682.5 L609.9,688.2 M704.4,551.2 L861.0,551.2 M863.9,639.4 L865.0,593.2 L861.0,564.3 L861.0,551.2 L861.2,496.1 L855.1,485.6 L846.6,472.5 L836.7,456.7 L834.0,440.9 L829.8,425.2 L822.4,406.8 M873.2,655.7 L933.7,656.2 M933.7,656.2 L935.2,669.3 L937.3,679.8 L926.8,693.0 L924.6,708.7 L964.1,708.7 L962.6,719.2 L966.8,730.2 M861.0,564.3 L955.2,564.3 L949.9,574.8 L950.6,577.5 L964.7,577.5 M976.3,551.2 L968.9,564.3 L964.7,577.5 L958.4,588.0 L956.3,601.1 L945.7,614.2 L937.3,630.0 L933.7,656.2 M704.4,472.5 L846.6,472.5 M836.7,457.2 L921.9,456.7 L928.4,462.5 L926.8,467.2 L928.9,477.7 L943.6,498.7 L954.2,504.0 L952.0,519.7 L966.8,538.1 L968.9,551.2 L976.3,551.2 M928.4,462.5 L935.2,451.5 L939.4,438.3 L952.0,427.8 L944.7,406.8 L935.2,393.7 L932.7,380.6 M662.2,393.7 L779.2,393.7 L800.3,397.6 L815.0,400.3 L822.4,406.8 L819.2,393.7 L822.4,380.6 L822.4,333.3 L820.1,316.5 M662.2,316.5 L820.1,316.5 L819.2,304.5 L815.0,288.7 L814.0,272.9 L808.7,257.2 L806.0,236.2 M822.4,380.6 L932.7,380.6 L924.6,367.5 L909.9,354.3 L899.3,347.8 L900.4,328.1 L909.9,312.3 L909.9,297.9 L914.1,295.3 M949.9,300.5 L977.3,309.7 L998.4,316.3 L1009.0,338.6 M944.9,406.8 L1004.8,406.8 M1010.7,427.8 L1010.4,489.5 L1009.0,498.7 L1011.1,511.8 L1002.6,525.0 L999.5,530.2 L996.3,538.1 L990.0,548.6 L976.3,551.2 M1010.7,426.3 L1067.6,426.3 M1067.6,426.3 L1067.6,496.1 M1067.6,496.1 L1055.3,505.3 L1046.9,517.1 L1036.4,522.3 L1025.8,526.3 L1011.1,526.3 L999.5,530.2 M1067.6,427.8 L1096.4,427.8 M1158.2,420.7 L1158.2,455.7 L1154.4,467.2 L1151.3,480.3 L1141.8,489.5 L1133.3,493.4 L1129.1,501.3 L1122.8,509.2 L1114.4,514.5 L1105.9,505.3 L1091.2,507.9 L1078.5,497.4 L1074.3,496.1 L1067.6,496.1 M1114.4,514.5 L1115.4,525.0 L1122.8,535.5 L1127.6,537.0 L1114.4,545.9 L1101.7,555.1 L1091.6,561.7 L999.5,564.3 L968.9,564.3 M1091.6,561.7 L1133.8,562.0 L1129.1,569.6 L1118.6,577.5 L1107.0,584.0 L1095.4,589.3 L1084.9,593.2 L1078.5,603.7 M952.0,603.7 L1078.5,603.7 M996.3,603.7 L998.4,606.3 L991.0,685.1 L992.1,725.0 M1051.1,603.7 L1059.6,660.1 L1063.8,674.6 L1061.7,693.0 L1063.8,708.7 L1009.0,708.7 L1012.1,721.8 L1011.1,727.1 M1063.8,708.7 L1066.7,716.6 L1122.8,720.0 L1126.0,725.8 L1128.1,719.2 L1138.6,716.1 M1151.3,681.1 L1141.8,666.7 L1133.3,650.9 L1122.8,640.5 L1114.4,630.0 L1105.9,616.8 L1098.6,610.3 L1103.8,603.7 L1078.5,603.7 M1199.7,633.6 L1176.1,609.0 L1152.3,608.4 L1149.1,601.1 L1147.0,599.8 L1120.7,598.4 L1103.8,603.7 M1256.2,563.0 L1133.8,562.0 M1127.6,537.0 L1133.3,545.9 L1143.9,544.6 L1152.3,540.7 L1162.8,538.1 L1165.0,527.6 L1171.3,519.7 L1179.7,510.5 L1186.0,502.6 L1194.5,498.7 L1202.9,490.8 L1215.5,490.8 L1217.2,490.3 M1217.2,490.3 L1207.1,481.6 L1194.5,482.9 L1188.1,486.9 L1180.1,493.4 L1180.1,479.8 M1217.2,490.3 L1227.1,497.4 L1231.4,504.0 L1228.2,514.5 L1240.8,522.3 L1248.2,526.3 M1158.2,479.8 L1257.9,479.8 L1257.9,513.1 L1273.5,513.1 M1257.9,479.8 L1264.0,476.4 L1266.1,477.7 L1273.5,472.5 L1279.8,467.2 L1273.5,456.7 L1272.5,447.5 L1281.1,436.8 M1174.2,412.9 L1174.2,420.0 L1267.0,420.0 L1272.5,425.2 L1281.1,436.8 L1297.8,446.2 L1295.7,454.1 M1303.0,446.7 L1306.2,443.6 L1306.2,418.6 L1311.3,400.3 L1310.8,378.0 L1308.3,367.5 L1309.4,341.2 M1306.2,418.6 L1342.0,419.4 L1350.9,419.4 L1350.9,422.6 L1356.4,433.1 M1342.0,419.4 L1342.0,437.8 M1311.3,400.3 L1352.6,401.6 L1362.7,397.1 M1328.1,400.8 L1335.7,383.2 L1337.8,367.5 L1346.2,351.7 L1348.4,340.9 M1365.2,391.6 L1359.3,380.6 L1357.8,354.3 L1357.2,333.3" fill="none" stroke="#000" stroke-width="3.8" stroke-linejoin="round" stroke-linecap="round"/>
<path d="M1288,461 L1300,456 L1320,450 L1335,446 L1341,443" fill="none" stroke="#000" stroke-width="6" stroke-linecap="round" stroke-linejoin="round"/>
<path d="M1356,436 L1366,432 L1378,428 L1381,422 L1379,417 L1374,417" fill="none" stroke="#000" stroke-width="5" stroke-linecap="round" stroke-linejoin="round"/>
<path d="M1226,485 L1233,494 L1229,505 L1236,514 L1236,528 L1241,543" fill="none" stroke="#000" stroke-width="4" stroke-linecap="round" stroke-linejoin="round"/>
<path d="M1241,484 L1246,498 L1252,510 L1258,522 L1256,538 L1251,549" fill="none" stroke="#000" stroke-width="4" stroke-linecap="round" stroke-linejoin="round"/>
<path d="M1230,520 L1244,532" fill="none" stroke="#000" stroke-width="3.5" stroke-linecap="round" stroke-linejoin="round"/>
<path d="M1232,532 L1247,545" fill="none" stroke="#000" stroke-width="3.5" stroke-linecap="round" stroke-linejoin="round"/>
<path d="M1237,520 L1242,505" fill="none" stroke="#000" stroke-width="3" stroke-linecap="round" stroke-linejoin="round"/>
<path d="M951,732 L958,727 L968,726 L974,729 L970,734 L960,736 Z" fill="none" stroke="#000" stroke-width="3.5" stroke-linecap="round" stroke-linejoin="round"/>
<path d="M966,737 L972,745 L970,752 L976,758 L980,762" fill="none" stroke="#000" stroke-width="3.5" stroke-linecap="round" stroke-linejoin="round"/>
<path d="M972,745 L980,742" fill="none" stroke="#000" stroke-width="3" stroke-linecap="round" stroke-linejoin="round"/>
<path d="M1232,545 L1240,551 L1246,555 L1251,554" fill="none" stroke="#000" stroke-width="5.5" stroke-linecap="round" stroke-linejoin="round"/>
<path d="M1254,545 L1253,552" fill="none" stroke="#000" stroke-width="5" stroke-linecap="round" stroke-linejoin="round"/>
<path d="M1237,570 L1238,579 L1247,574 L1252,577 L1250,585 L1257,585" fill="none" stroke="#000" stroke-width="5" stroke-linecap="round" stroke-linejoin="round"/>
<path d="M1231,591 L1242,593 L1249,594" fill="none" stroke="#000" stroke-width="5" stroke-linecap="round" stroke-linejoin="round"/>
<path d="M1230,600 L1240,603 L1247,606" fill="none" stroke="#000" stroke-width="5.5" stroke-linecap="round" stroke-linejoin="round"/>
<path d="M269.2,234.8 L276.6,239.7 L281.6,262 L276.6,269.3 L279,284.1 L269.2,289.1 L259.3,281.7 L261.8,266.9 L266.7,252.1 L259.3,244.7 Z" fill="#000" stroke="#000" stroke-width="2"/>
<ellipse cx="982" cy="261" rx="9" ry="3" transform="rotate(-25 982 261)" fill="#4e4e4e"/><ellipse cx="944" cy="288" rx="4" ry="2.5" fill="#4e4e4e"/>
<path d="M1106,879 Q1130,880 1145,872 Q1160,866 1165,857" fill="none" stroke="#b5ffbd" stroke-width="3" stroke-dasharray="6 4"/>
<path d="M276,522 L283,528 L281,536 L286,541 L280,543 L275,533 Z" fill="#000" stroke="#000" stroke-width="2.5" stroke-linejoin="round"/>
<path d="M318,646 L330,643 L338,647" fill="none" stroke="#e8a0a0" stroke-width="3"/><ellipse cx="333" cy="665" rx="2" ry="1.5" fill="#9c8610"/><ellipse cx="346" cy="669" rx="3" ry="2" fill="#9c8610"/><ellipse cx="350" cy="677" rx="2" ry="3" fill="#9c8610"/>
<circle cx="1364" cy="438" r="3" fill="#000"/><circle cx="1378" cy="440" r="3" fill="#000"/>
</svg>
<div class="lt">Earliest date<br>of 1st gen. egg<br>laying</div>
<div class="sq" style="left:1487px;top:407.00px;background:#4e4e4e"></div>
<div class="lb" style="left:1522.7px;top:407.50px">excl.-sev.</div>
<div class="sq" style="left:1487px;top:432.45px;background:#b5ffbd"></div>
<div class="lb" style="left:1522.7px;top:432.95px">Mar-07</div>
<div class="sq" style="left:1487px;top:457.90px;background:#8fd095"></div>
<div class="lb" style="left:1522.7px;top:458.40px">Mar-14</div>
<div class="sq" style="left:1487px;top:483.35px;background:#66a56b"></div>
<div class="lb" style="left:1522.7px;top:483.85px">Mar-21</div>
<div class="sq" style="left:1487px;top:508.80px;background:#3d7a42"></div>
<div class="lb" style="left:1522.7px;top:509.30px">Mar-28</div>
<div class="sq" style="left:1487px;top:534.25px;background:#ccff00"></div>
<div class="lb" style="left:1522.7px;top:534.75px">Apr-04</div>
<div class="sq" style="left:1487px;top:559.70px;background:#aaee00"></div>
<div class="lb" style="left:1522.7px;top:560.20px">Apr-11</div>
<div class="sq" style="left:1487px;top:585.15px;background:#7edc10"></div>
<div class="lb" style="left:1522.7px;top:585.65px">Apr-18</div>
<div class="sq" style="left:1487px;top:610.60px;background:#4ed40a"></div>
<div class="lb" style="left:1522.7px;top:611.10px">Apr-25</div>
<div class="sq" style="left:1487px;top:636.05px;background:#ffff00"></div>
<div class="lb" style="left:1522.7px;top:636.55px">May-02</div>
<div class="sq" style="left:1487px;top:661.50px;background:#e2da00"></div>
<div class="lb" style="left:1522.7px;top:662.00px">May-09</div>
<div class="sq" style="left:1487px;top:686.95px;background:#c0ae08"></div>
<div class="lb" style="left:1522.7px;top:687.45px">May-16</div>
<div class="sq" style="left:1487px;top:712.40px;background:#9c8610"></div>
<div class="lb" style="left:1522.7px;top:712.90px">May-23</div>
<div class="sq" style="left:1487px;top:737.85px;background:#7a5b0c"></div>
<div class="lb" style="left:1522.7px;top:738.35px">May-30</div>
<div class="sq" style="left:1487px;top:763.30px;background:#ffd595"></div>
<div class="lb" style="left:1522.7px;top:763.80px">Jun-06</div>
<div class="sq" style="left:1635px;top:407.00px;background:#fdbf6e"></div>
<div class="lb" style="left:1670.5px;top:407.50px">Jun-13</div>
<div class="sq" style="left:1635px;top:432.45px;background:#fca952"></div>
<div class="lb" style="left:1670.5px;top:432.95px">Jun-20</div>
<div class="sq" style="left:1635px;top:457.90px;background:#fd9534"></div>
<div class="lb" style="left:1670.5px;top:458.40px">Jun-27</div>
<div class="sq" style="left:1635px;top:483.35px;background:#f4cccc"></div>
<div class="lb" style="left:1670.5px;top:483.85px">Jul-04</div>
<div class="sq" style="left:1635px;top:508.80px;background:#f59b9b"></div>
<div class="lb" style="left:1670.5px;top:509.30px">Jul-11</div>
<div class="sq" style="left:1635px;top:534.25px;background:#f56464"></div>
<div class="lb" style="left:1670.5px;top:534.75px">Jul-18</div>
<div class="sq" style="left:1635px;top:559.70px;background:#fb3434"></div>
<div class="lb" style="left:1670.5px;top:560.20px">Jul-25</div>
<div class="sq" style="left:1635px;top:585.15px;background:#e8b5a8"></div>
<div class="lb" style="left:1670.5px;top:585.65px">Aug-01</div>
<div class="sq" style="left:1635px;top:610.60px;background:#c98b7e"></div>
<div class="lb" style="left:1670.5px;top:611.10px">Aug-08</div>
<div class="sq" style="left:1635px;top:636.05px;background:#b16655"></div>
<div class="lb" style="left:1670.5px;top:636.55px">Aug-15</div>
<div class="sq" style="left:1635px;top:661.50px;background:#9a4230"></div>
<div class="lb" style="left:1670.5px;top:662.00px">Aug-22</div>
<div class="sq" style="left:1635px;top:686.95px;background:#811f0d"></div>
<div class="lb" style="left:1670.5px;top:687.45px">Aug-29</div>
<div class="sq" style="left:1635px;top:712.40px;background:#ffabde"></div>
<div class="lb" style="left:1670.5px;top:712.90px">Sep-05</div>
<div class="sq" style="left:1635px;top:737.85px;background:#ff82e0"></div>
<div class="lb" style="left:1670.5px;top:738.35px">Sep-12</div>
<div class="sq" style="left:1635px;top:763.30px;background:#ff55e8"></div>
<div class="lb" style="left:1670.5px;top:763.80px">Sep-19</div>
<div class="sq" style="left:1759px;top:407.00px;background:#ff2af0"></div>
<div class="lb" style="left:1796px;top:407.50px">Sep-26</div>
<div class="sq" style="left:1759px;top:432.45px;background:#e2c0e6"></div>
<div class="lb" style="left:1796px;top:432.95px">Oct-03</div>
<div class="sq" style="left:1759px;top:457.90px;background:#c996d6"></div>
<div class="lb" style="left:1796px;top:458.40px">Oct-10</div>
<div class="sq" style="left:1759px;top:483.35px;background:#b56fcb"></div>
<div class="lb" style="left:1796px;top:483.85px">Oct-17</div>
<div class="sq" style="left:1759px;top:508.80px;background:#9f49ba"></div>
<div class="lb" style="left:1796px;top:509.30px">Oct-28</div>
<div class="sq" style="left:1759px;top:534.25px;background:#8c23a9"></div>
<div class="lb" style="left:1796px;top:534.75px">Oct-31</div>
<div class="sq" style="left:1759px;top:559.70px;background:#b9edfb"></div>
<div class="lb" style="left:1796px;top:560.20px">Nov-08</div>
<div class="sq" style="left:1759px;top:585.15px;background:#88d5ef"></div>
<div class="lb" style="left:1796px;top:585.65px">Nov-16</div>
<div class="sq" style="left:1759px;top:610.60px;background:#5bbfe5"></div>
<div class="lb" style="left:1796px;top:611.10px">Nov-24</div>
<div class="sq" style="left:1759px;top:636.05px;background:#a2c4e5"></div>
<div class="lb" style="left:1796px;top:636.55px">Dec-17</div>
<div class="sq" style="left:1759px;top:661.50px;background:#7690ec"></div>
<div class="lb" style="left:1796px;top:662.00px">Dec-21</div>
</body></html>
